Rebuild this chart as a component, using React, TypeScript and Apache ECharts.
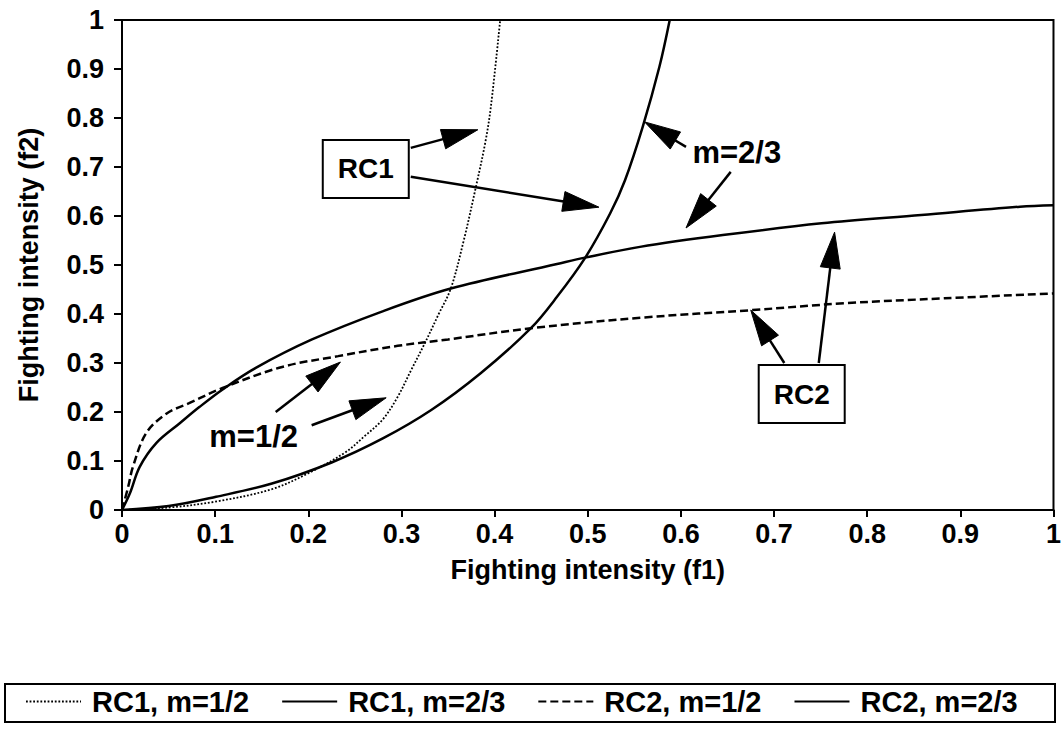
import React, { useEffect, useRef } from "react";
import * as echarts from "echarts";

// ---- data (f1, f2) ----
const rc1Half: [number, number][] = [
  [0, 0], [0.05, 0.005], [0.1, 0.017], [0.16, 0.042], [0.2, 0.075], [0.24, 0.118],
  [0.26, 0.15], [0.28, 0.185], [0.296, 0.231], [0.31, 0.284], [0.325, 0.34],
  [0.34, 0.4], [0.353, 0.452], [0.367, 0.551], [0.38, 0.66], [0.39, 0.75],
  [0.396, 0.823], [0.406, 1.0],
];
const rc1TwoThirds: [number, number][] = [
  [0, 0], [0.05, 0.008], [0.101, 0.027], [0.161, 0.054], [0.225, 0.097], [0.28, 0.146],
  [0.332, 0.204], [0.385, 0.279], [0.439, 0.371], [0.467, 0.435], [0.497, 0.514],
  [0.524, 0.605], [0.54, 0.673], [0.559, 0.782], [0.577, 0.905], [0.588, 1.0],
];
const rc2Half: [number, number][] = [
  [0, 0], [0.0066, 0.047], [0.0117, 0.088], [0.026, 0.157], [0.048, 0.197], [0.072, 0.218],
  [0.108, 0.249], [0.172, 0.292], [0.232, 0.314], [0.296, 0.335], [0.35, 0.348],
  [0.439, 0.371], [0.561, 0.393], [0.677, 0.408], [0.776, 0.422], [0.883, 0.432], [1.0, 0.442],
];
const rc2TwoThirds: [number, number][] = [
  [0, 0], [0.0085, 0.034], [0.019, 0.088], [0.037, 0.137], [0.062, 0.177], [0.083, 0.21],
  [0.108, 0.246], [0.1436, 0.29], [0.204, 0.348], [0.279, 0.405], [0.353, 0.452],
  [0.467, 0.502], [0.497, 0.515], [0.556, 0.537], [0.645, 0.561], [0.751, 0.585],
  [0.858, 0.602], [0.964, 0.619], [1.0, 0.622],
];
const seriesNames = ["RC1, m=1/2", "RC1, m=2/3", "RC2, m=1/2", "RC2, m=2/3"];
const xTitle = "Fighting intensity (f1)";
const yTitle = "Fighting intensity (f2)";

// annotations, in data coordinates
const boxLabels: { text: string; at: [number, number] }[] = [
  { text: "RC1", at: [0.2617, 0.696] },
  { text: "RC2", at: [0.7297, 0.2367] },
];
const noteLabels: { text: string; at: [number, number] }[] = [
  { text: "m=1/2", at: [0.1413, 0.151] },
  { text: "m=2/3", at: [0.66, 0.729] },
];
const arrows: [number, number, number, number][] = [
  [0.31, 0.739, 0.382, 0.776],
  [0.31, 0.68, 0.512, 0.618],
  [0.6055, 0.741, 0.561, 0.792],
  [0.6535, 0.69, 0.6055, 0.5755],
  [0.165, 0.2, 0.2345, 0.302],
  [0.2036, 0.173, 0.2836, 0.229],
  [0.711, 0.3, 0.675, 0.408],
  [0.748, 0.3, 0.765, 0.567],
];

const FONT = "Liberation Sans";

export default function App() {
  const ref = useRef<HTMLDivElement>(null);
  useEffect(() => {
    document.body.style.margin = "0";
    const chart = echarts.init(ref.current!, null, { renderer: "svg" });
    const lineSeries = (name: string, data: [number, number][], width: number, type: any) => ({
      name,
      type: "line",
      data,
      symbol: "none",
      showSymbol: false,
      smooth: 0.35,
      silent: true,
      lineStyle: { color: "#000", width, type },
      itemStyle: { color: "#000" },
    });
    const axisCommon = {
      type: "value",
      min: 0,
      max: 1,
      interval: 0.1,
      axisLine: { show: true, onZero: false, lineStyle: { color: "#000", width: 2 } },
      splitLine: { show: false },
      nameLocation: "middle",
      nameTextStyle: { fontFamily: FONT, fontSize: 27, fontWeight: "bold", color: "#000" },
    };
    chart.setOption({
      animation: false,
      backgroundColor: "#fff",
      grid: {
        left: 122, top: 20, width: 938, height: 490,
        show: true, borderColor: "#000", borderWidth: 2, backgroundColor: "transparent",
      },
      xAxis: {
        ...axisCommon,
        name: xTitle,
        nameGap: 46,
        axisTick: { show: true, length: 7, lineStyle: { color: "#000", width: 2 } },
        axisLabel: { margin: 10, fontFamily: FONT, fontSize: 27, fontWeight: "bold", color: "#000" },
      },
      yAxis: {
        ...axisCommon,
        name: yTitle,
        nameGap: 80,
        axisTick: { show: true, length: 8, lineStyle: { color: "#000", width: 2 } },
        axisLabel: { margin: 18, fontFamily: FONT, fontSize: 27, fontWeight: "bold", color: "#000" },
      },
      legend: {
        data: seriesNames,
        left: 25,
        top: 687,
        padding: 0,
        itemWidth: 55,
        itemHeight: 14,
        itemGap: 32,
        selectedMode: false,
        itemStyle: { color: "transparent", borderColor: "transparent", borderWidth: 0, opacity: 0 },
        lineStyle: { opacity: 1 },
        textStyle: { fontFamily: FONT, fontSize: 29, fontWeight: "bold", color: "#000", padding: [0, 0, 0, 6] },
      },
      series: [
        lineSeries(seriesNames[0], rc1Half, 1.8, [1.8, 1.8]),
        lineSeries(seriesNames[1], rc1TwoThirds, 2.5, "solid"),
        lineSeries(seriesNames[2], rc2Half, 2.5, [8, 4]),
        lineSeries(seriesNames[3], rc2TwoThirds, 2.5, "solid"),
      ],
    });

    const px = (p: [number, number]) => chart.convertToPixel({ gridIndex: 0 }, p) as number[];
    const graphics: any[] = [];
    // legend frame
    graphics.push({
      type: "rect", silent: true, z: 1,
      shape: { x: 5, y: 684, width: 1050, height: 38 },
      style: { fill: "none", stroke: "#000", lineWidth: 2 },
    });
    arrows.forEach(([x1, y1, x2, y2]) => {
      const a = px([x1, y1]);
      const b = px([x2, y2]);
      const dx = b[0] - a[0], dy = b[1] - a[1];
      const len = Math.hypot(dx, dy);
      const ux = dx / len, uy = dy / len;
      const headLen = Math.min(36, len * 0.85), headW = 10;
      const bx = b[0] - ux * headLen, by = b[1] - uy * headLen;
      graphics.push({
        type: "line", silent: true, z: 10,
        shape: { x1: a[0], y1: a[1], x2: bx + ux * 2, y2: by + uy * 2 },
        style: { stroke: "#000", lineWidth: 2.5 },
      });
      graphics.push({
        type: "polygon", silent: true, z: 10,
        shape: { points: [[b[0], b[1]], [bx - uy * headW, by + ux * headW], [bx + uy * headW, by - ux * headW]] },
        style: { fill: "#000", stroke: "#000", lineWidth: 1 },
      });
    });
    boxLabels.forEach(({ text, at }) => {
      const c = px(at);
      graphics.push({
        type: "rect", silent: true, z: 11,
        shape: { x: c[0] - 43, y: c[1] - 29, width: 86, height: 58 },
        style: { fill: "#fff", stroke: "#000", lineWidth: 2 },
      });
      graphics.push({
        type: "text", silent: true, z: 12,
        x: c[0], y: c[1],
        style: { text, fill: "#000", fontFamily: FONT, fontSize: 28, fontWeight: "bold", align: "center", verticalAlign: "middle" },
      });
    });
    noteLabels.forEach(({ text, at }) => {
      const c = px(at);
      graphics.push({
        type: "text", silent: true, z: 12,
        x: c[0], y: c[1],
        style: { text, fill: "#000", fontFamily: FONT, fontSize: 31, fontWeight: "bold", align: "center", verticalAlign: "middle" },
      });
    });
    chart.setOption({ graphic: graphics });
    return () => chart.dispose();
  }, []);
  return <div ref={ref} style={{ position: "absolute", left: 0, top: 0, width: 1064, height: 746 }} />;
}
